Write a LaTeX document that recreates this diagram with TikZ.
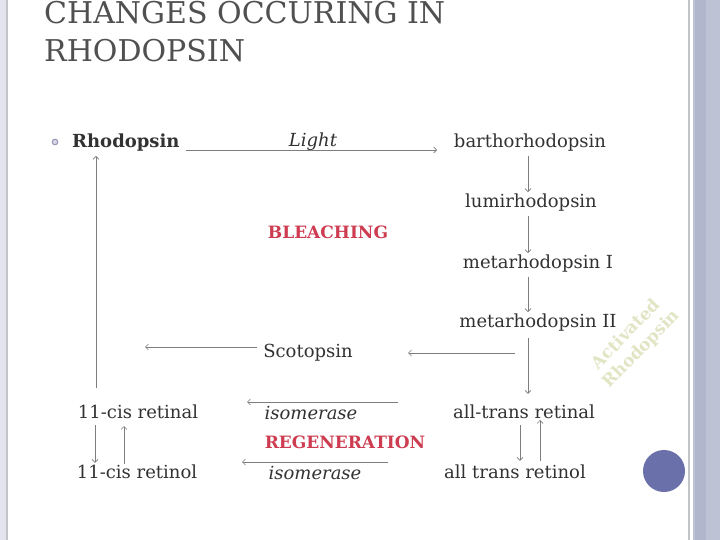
\documentclass[tikz,border=0pt]{standalone}
\usepackage{fontspec}
\setmainfont{DejaVu Serif}
\usetikzlibrary{arrows.meta}
\definecolor{txt}{RGB}{50,50,50}
\definecolor{ttl}{RGB}{80,80,80}
\definecolor{ln}{RGB}{125,125,125}
\definecolor{redt}{RGB}{205,60,80}
\definecolor{bandl}{RGB}{228,228,238}
\definecolor{bandr}{RGB}{190,194,213}
\definecolor{bandd}{RGB}{178,182,204}
\definecolor{edge}{RGB}{195,195,202}
\definecolor{dotblue}{RGB}{105,112,170}
\definecolor{wmark}{RGB}{226,229,196}
\tikzset{
  lbl/.style={inner sep=1pt, text=txt, font=\fontsize{18}{20}\selectfont},
  ilbl/.style={lbl, font=\fontsize{18}{20}\selectfont\itshape},
  rlbl/.style={inner sep=1pt, text=redt, font=\fontsize{17}{20}\selectfont\bfseries},
  ttlstyle/.style={inner sep=0pt, text=ttl, anchor=base west, font=\fontsize{30}{34}\selectfont},
  arr/.style={draw=ln, line width=0.7pt, -{Straight Barb[length=3pt,width=6pt]}},
  wm/.style={inner sep=0pt, text=wmark, align=center, font=\fontsize{17}{21}\selectfont\bfseries, rotate=46}
}
\begin{document}
\begin{tikzpicture}[x=1pt,y=-1pt]
\useasboundingbox (0,0) rectangle (720,540);
\fill[white] (0,0) rectangle (720,540);
% borders
\fill[bandl] (0,0) rectangle (6,540);
\draw[edge, line width=1.5pt] (7,0) -- (7,540);
\draw[edge, line width=1.5pt] (689,0) -- (689,540);
\fill[bandr] (693,0) rectangle (720,540);
\fill[bandd] (695,0) rectangle (706,540);
% title
\node[ttlstyle] (t1) at (44,24) {CHANGES OCCURING IN};
\node[ttlstyle] (t2) at (44,62) {RHODOPSIN};
% bullet
\draw[draw={rgb,255:red,150;green,150;blue,185}, fill={rgb,255:red,215;green,215;blue,230}, line width=1pt] (55,142) circle (2.8);
% nodes
\node[lbl, font=\fontsize{18}{20}\selectfont\bfseries, anchor=west] (rho) at (71,143) {Rhodopsin};
\node[ilbl] (light) at (313,142) {Light};
\node[lbl] (bar) at (530,143) {barthorhodopsin};
\node[lbl] (lumi) at (531,203) {lumirhodopsin};
\node[lbl] (m1) at (538,264) {metarhodopsin I};
\node[lbl] (m2) at (538,323) {metarhodopsin II};
\node[lbl] (scot) at (308,353) {Scotopsin};
\node[lbl] (cisal) at (138,412) {11-cis retinal};
\node[lbl] (tral) at (524,412) {all-trans retinal};
\node[lbl] (cisol) at (137,472) {11-cis retinol};
\node[lbl] (trol) at (515,472) {all trans retinol};
\node[ilbl] (iso1) at (311,413) {isomerase};
\node[ilbl] (iso2) at (315,473) {isomerase};
\node[rlbl] (bleach) at (328,232) {BLEACHING};
\node[rlbl] (regen) at (345,442) {REGENERATION};
% free ends
\coordinate (lightend) at (437,150);
\coordinate (scR) at (515,353);
\coordinate (scRend) at (408,353);
\coordinate (scLend) at (145,347);
\coordinate (i1s) at (398,402);
\coordinate (i1e) at (247,402);
\coordinate (i2s) at (388,462);
\coordinate (i2e) at (242,462);
% connectors
\draw[arr] (rho.east |- lightend) ++(5,0) -- (lightend);
\draw[arr] (bar.south -| 528,0) ++(0,3) -- ([yshift=1pt]lumi.north -| 528,0);
\draw[arr] (lumi.south -| 528,0) ++(0,3) -- ([yshift=1pt]m1.north -| 528,0);
\draw[arr] (m1.south -| 528,0) ++(0,3) -- ([yshift=1pt]m2.north -| 528,0);
\draw[arr] (m2.south -| 528,0) ++(0,5) -- ([yshift=10pt]tral.north -| 528,0);
\draw[arr] (scR) -- (scRend);
\draw[arr] ([xshift=-5pt,yshift=6pt]scot.west) -- (scLend);
\draw[arr] (cisal.north -| 96,0) ++(0,-16) -- ([yshift=-3pt]rho.south -| 96,0);
\draw[arr] (i1s) -- (i1e);
\draw[arr] (i2s) -- (i2e);
\draw[arr] (95,425) -- ([yshift=1pt]cisol.north -| 95,0);
\draw[arr] (cisol.north -| 124,0) -- (124,426);
\draw[arr] (520,425) -- ([yshift=3pt]trol.north -| 520,0);
\draw[arr] ([yshift=3pt]trol.north -| 540,0) -- (540,420);
% watermark
\node[wm] (wm) at (634,342) {Activated\\Rhodopsin};
% blue dot
\fill[dotblue] (664,471) circle (21);
\end{tikzpicture}
\end{document}
